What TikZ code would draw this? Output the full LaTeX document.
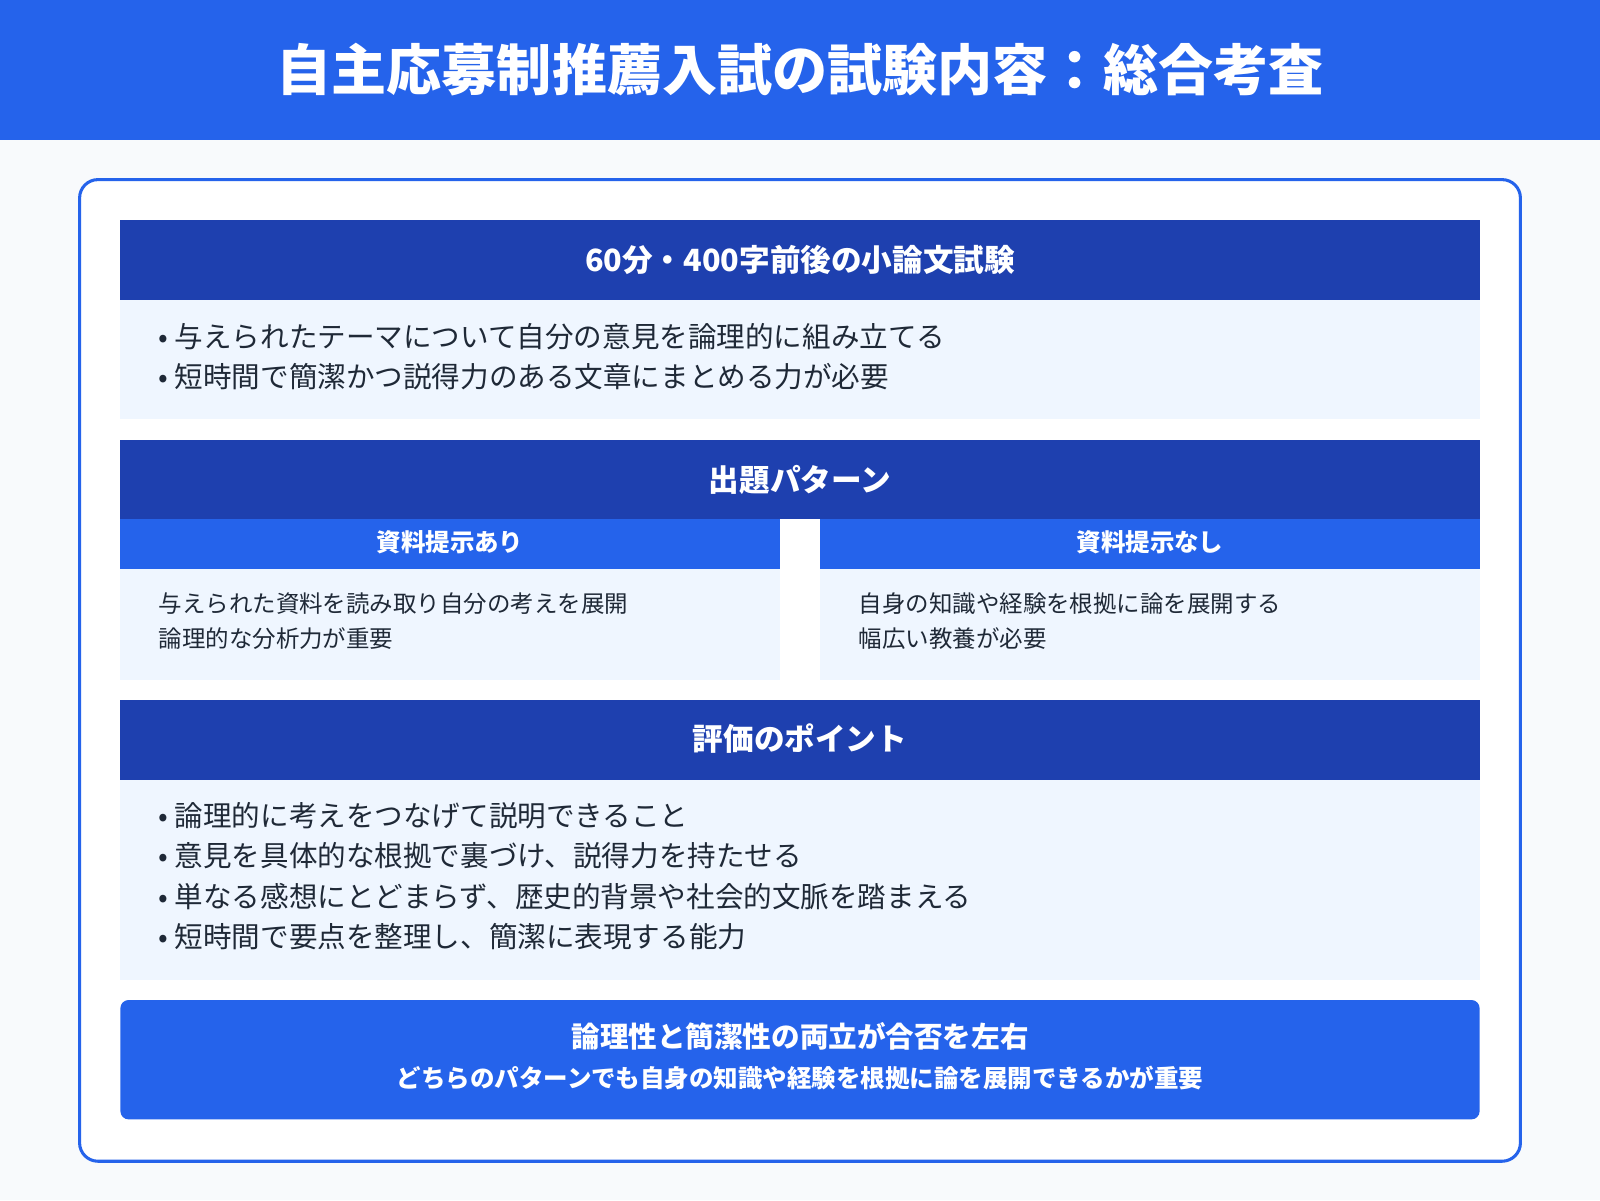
\documentclass[tikz,border=0pt]{standalone}
\usepackage{fontspec}
\setmainfont{Noto Sans CJK JP}
\newfontfamily\jpb{Noto Sans CJK JP Bold}
\definecolor{hblue}{HTML}{2563EB}
\definecolor{dblue}{HTML}{1E40AF}
\definecolor{lblue}{HTML}{EFF6FF}
\definecolor{bg}{HTML}{F8FAFC}
\definecolor{txt}{HTML}{1F2937}
\begin{document}
\begin{tikzpicture}[x=1pt,y=-1pt,
  hdr/.style={fill=dblue,draw=none},
  body/.style={fill=lblue,draw=none},
  htext/.style={text=white,font=\bfseries\fontsize{30}{36}\selectfont,anchor=center},
  btext/.style={text=txt,font=\fontsize{28}{34}\selectfont,anchor=west},
  stext/.style={text=txt,font=\fontsize{23}{28}\selectfont,anchor=west}]
\useasboundingbox (0,0) rectangle (1568,1176);
\fill[bg] (0,0) rectangle (1568,1176);
\fill[hblue] (0,0) rectangle (1568,137);
\node[text=white,font=\bfseries\fontsize{54}{60}\selectfont] (title) at (784,68) {自主応募制推薦入試の試験内容：総合考査};
\draw[hblue,line width=3pt,fill=white,rounded corners=18pt] (78,176) rectangle (1490,1138);
% section 1
\fill[hdr] (118,216) rectangle (1450,294);
\node[htext] (s1) at (784,255) {\itshape 60分・400字前後の小論文試験};
\fill[body] (118,294) rectangle (1450,411);
\node[btext] (b11) at (152,330) {• 与えられたテーマについて自分の意見を論理的に組み立てる};
\node[btext] (b12) at (152,369) {• 短時間で簡潔かつ説得力のある文章にまとめる力が必要};
% section 2
\fill[hdr] (118,431) rectangle (1450,509);
\node[htext] (s2) at (784,470) {出題パターン};
\fill[hblue] (118,509) rectangle (764,558);
\fill[hblue] (804,509) rectangle (1450,558);
\node[text=white,font=\bfseries\fontsize{24}{28}\selectfont] (p1) at (441,531) {資料提示あり};
\node[text=white,font=\bfseries\fontsize{24}{28}\selectfont] (p2) at (1127,531) {資料提示なし};
\fill[body] (118,558) rectangle (764,666);
\fill[body] (804,558) rectangle (1450,666);
\node[stext] (t1) at (152,592) {与えられた資料を読み取り自分の考えを展開};
\node[stext] (t2) at (152,626) {論理的な分析力が重要};
\node[stext] (t3) at (838,592) {自身の知識や経験を根拠に論を展開する};
\node[stext] (t4) at (838,626) {幅広い教養が必要};
% section 3
\fill[hdr] (118,686) rectangle (1450,764);
\node[htext] (s3) at (784,724) {評価のポイント};
\fill[body] (118,764) rectangle (1450,960);
\node[btext] (b31) at (152,799) {• 論理的に考えをつなげて説明できること};
\node[btext] (b32) at (152,839) {• 意見を具体的な根拠で裏づけ、説得力を持たせる};
\node[btext] (b33) at (152,879) {• 単なる感想にとどまらず、歴史的背景や社会的文脈を踏まえる};
\node[btext] (b34) at (152,918) {• 短時間で要点を整理し、簡潔に表現する能力};
% bottom
\fill[hblue,rounded corners=8pt] (118,980) rectangle (1450,1097);
\node[text=white,font=\bfseries\fontsize{28}{34}\selectfont] (c1) at (784,1016) {論理性と簡潔性の両立が合否を左右};
\node[text=white,font=\bfseries\fontsize{24}{28}\selectfont] (c2) at (784,1056) {どちらのパターンでも自身の知識や経験を根拠に論を展開できるかが重要};
\end{tikzpicture}
\end{document}
